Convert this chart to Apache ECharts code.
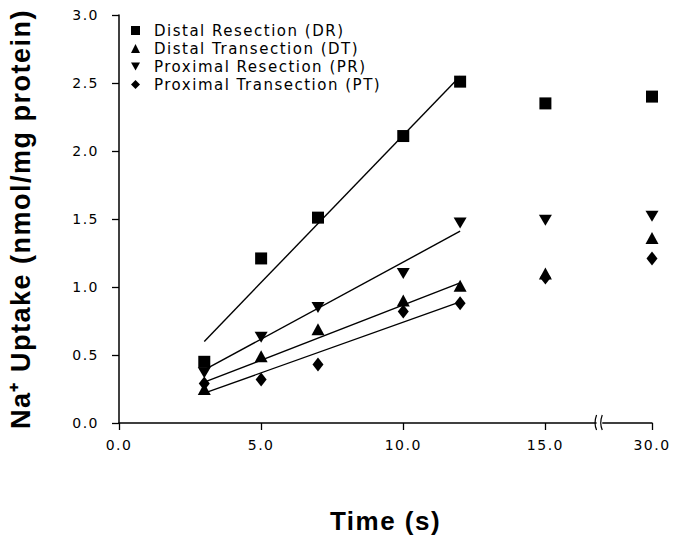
<!DOCTYPE html>
<html>
<head>
<meta charset="utf-8">
<script src="https://cdn.jsdelivr.net/npm/echarts@6.0.0/dist/echarts.min.js"></script>
<style>
    html, body {
        margin: 0;
        padding: 0;
        background: #fff;
    }
    #uptake-chart {
        width: 673px;
        height: 537px;
    }
    /* wide plotter-like lettering */
    #uptake-chart text {
        letter-spacing: 1.5px;
    }
</style>
</head>
<body>
<div id="uptake-chart"></div>
<script>
// measured time points (s)
const times = [3, 5, 7, 10, 12, 15, 30]
// Na+ uptake, nmol/mg protein
const valuesDR = [0.45, 1.21, 1.51, 2.11, 2.51, 2.35, 2.40]
const valuesDT = [0.25, 0.49, 0.69, 0.90, 1.01, 1.10, 1.36]
const valuesPR = [0.37, 0.63, 0.85, 1.10, 1.47, 1.49, 1.52]
const valuesPT = [0.29, 0.32, 0.43, 0.82, 0.88, 1.07, 1.21]
// fitted lines over the linear part (3 - 12 s)
const fitTimes = [3, 12]
const fitDR = [0.60, 2.55]
const fitDT = [0.30, 1.03]
const fitPR = [0.39, 1.41]
const fitPT = [0.22, 0.89]
// x axis ticks (s) and y axis range
const xTicks = [0, 5, 10, 15, 30]
const yMin = 0
const yMax = 3
const yStep = 0.5

const seriesNames = [
    'Distal Resection (DR)',
    'Distal Transection (DT)',
    'Proximal Resection (PR)',
    'Proximal Transection (PT)'
]

// broken time axis: 17 s .. 28.25 s is cut out
const breakAt = 17
const cutLength = 11.25
function toAxis(t) {
    return t > breakAt ? t - cutLength : t
}
function fromAxis(v) {
    return v > breakAt ? v + cutLength : v
}
function pairs(xs, ys) {
    return xs.map((t, i) => [toAxis(t), ys[i]])
}

const triangleDown = 'path://M0,0L10,0L5,9Z'
const font = 'DejaVu Sans'

const uptakeChart = echarts.init(document.getElementById('uptake-chart'), null, { renderer: 'svg' })

function fitLine(ys) {
    return {
        type: 'line',
        data: pairs(fitTimes, ys),
        symbol: 'none',
        lineStyle: { color: '#000', width: 1.4 },
        z: 1,
        silent: true
    }
}
function markers(name, symbol, size, ys) {
    return {
        name: name,
        type: 'scatter',
        symbol: symbol,
        symbolSize: size,
        itemStyle: { color: '#000', opacity: 1 },
        data: pairs(times, ys),
        z: 3
    }
}

const uptakeOption = {
    animation: false,
    backgroundColor: '#fff',
    grid: {
        left: 119,
        right: 21,
        top: 15,
        bottom: 114,
        outerBoundsMode: 'none'
    },
    legend: {
        orient: 'vertical',
        left: 131,
        top: 23,
        padding: 0,
        itemGap: 3,
        itemWidth: 9,
        itemHeight: 9,
        selectedMode: false,
        textStyle: {
            fontFamily: font,
            fontSize: 15,
            lineHeight: 15,
            color: '#000',
            padding: [0, 0, 0, 9]
        },
        data: [
            { name: seriesNames[0], icon: 'rect' },
            { name: seriesNames[1], icon: 'triangle' },
            { name: seriesNames[2], icon: triangleDown },
            { name: seriesNames[3], icon: 'diamond' }
        ]
    },
    xAxis: {
        type: 'value',
        min: 0,
        max: toAxis(30),
        name: 'Time (s)',
        nameLocation: 'middle',
        nameGap: 85,
        nameTextStyle: {
            fontFamily: 'Liberation Sans',
            fontWeight: 'bold',
            fontSize: 26,
            color: '#000'
        },
        splitLine: { show: false },
        axisLine: { lineStyle: { color: '#000', width: 1.5 } },
        axisTick: {
            length: 7,
            lineStyle: { color: '#000', width: 1.3 },
            customValues: xTicks.map(toAxis)
        },
        axisLabel: {
            margin: 15,
            fontFamily: font,
            fontSize: 14,
            color: '#000',
            customValues: xTicks.map(toAxis),
            formatter: (v) => fromAxis(v).toFixed(1)
        }
    },
    yAxis: {
        type: 'value',
        min: yMin,
        max: yMax,
        interval: yStep,
        name: 'Na\u207A Uptake (nmol/mg protein)',
        nameLocation: 'middle',
        nameGap: 85,
        nameTextStyle: {
            fontFamily: 'Liberation Sans',
            fontWeight: 'bold',
            fontSize: 27,
            color: '#000'
        },
        splitLine: { show: false },
        axisLine: { show: true, lineStyle: { color: '#000', width: 1.5 } },
        axisTick: { show: true, length: 7, lineStyle: { color: '#000', width: 1.3 } },
        axisLabel: {
            margin: 20,
            fontFamily: font,
            fontSize: 14,
            color: '#000',
            formatter: (v) => v.toFixed(1)
        }
    },
    series: [
        fitLine(fitDR),
        fitLine(fitDT),
        fitLine(fitPR),
        fitLine(fitPT),
        markers(seriesNames[0], 'rect', 12, valuesDR),
        markers(seriesNames[1], 'triangle', [13, 12], valuesDT),
        markers(seriesNames[2], triangleDown, [13, 11], valuesPR),
        markers(seriesNames[3], 'diamond', [11, 14], valuesPT)
    ]
}
uptakeOption && uptakeChart.setOption(uptakeOption)

// axis break mark "( (" on the time axis
const breakLeft = uptakeChart.convertToPixel({ xAxisIndex: 0 }, breakAt - 0.2)
const breakRight = uptakeChart.convertToPixel({ xAxisIndex: 0 }, breakAt)
const axisY = uptakeChart.convertToPixel({ yAxisIndex: 0 }, 0)
function breakStroke(x) {
    return {
        type: 'bezierCurve',
        shape: { x1: x, y1: axisY - 8, cpx1: x - 3, cpy1: axisY, x2: x, y2: axisY + 7 },
        style: { stroke: '#000', lineWidth: 1.2, fill: null },
        z: 10
    }
}
uptakeChart.setOption({
    graphic: [
        {
            type: 'rect',
            shape: { x: breakLeft, y: axisY - 3, width: breakRight - breakLeft, height: 6 },
            style: { fill: '#fff' },
            z: 9
        },
        breakStroke(breakLeft),
        breakStroke(breakRight)
    ]
})
</script>
</body>
</html>
